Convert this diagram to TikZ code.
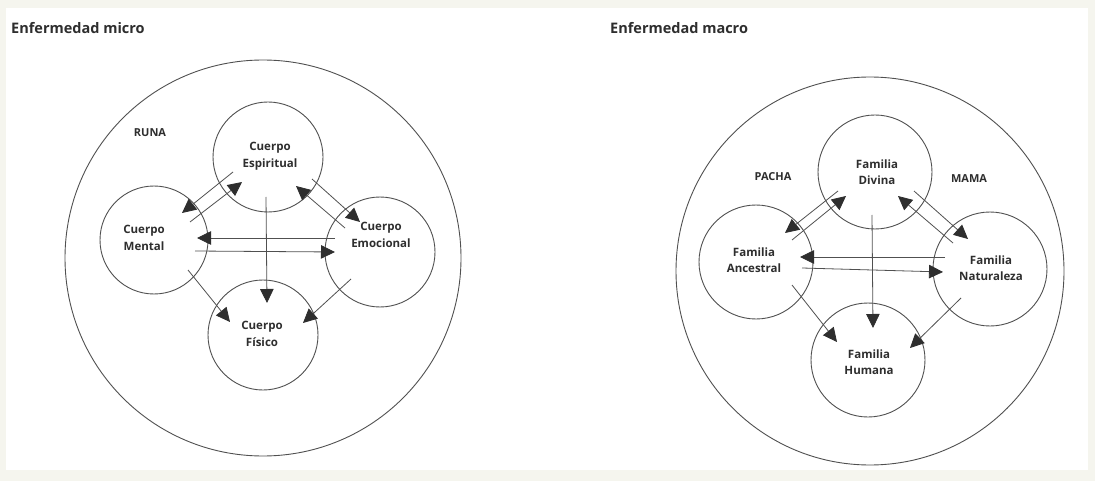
\documentclass[tikz,border=0pt]{standalone}
\usepackage{fontspec}
\setmainfont{Open Sans}
\usetikzlibrary{arrows.meta,calc}
\definecolor{ink}{HTML}{2E2E2E}
\definecolor{linec}{HTML}{505050}
\definecolor{paper}{HTML}{F5F5EE}
\begin{document}
\begin{tikzpicture}[x=1pt,y=-1pt,
  bubble/.style={draw=linec,line width=0.9pt,circle,inner sep=0pt,minimum size=#1},
  lbl/.style={text=ink,font=\bfseries\fontsize{11.5}{16.5}\selectfont,align=center,inner sep=0pt},
  title/.style={text=ink,font=\bfseries\fontsize{14.5}{16}\selectfont,inner sep=0pt,anchor=west},
  realm/.style={text=ink,font=\bfseries\fontsize{11}{13}\selectfont,inner sep=0pt},
  arr/.style={draw=linec,line width=0.8pt,-{Triangle[length=14pt,width=13.5pt,color=ink]}}]
\fill[paper] (0,0) rectangle (1095,481);
\fill[white] (6,8) rectangle (1088,470);
\useasboundingbox (0,0) rectangle (1095,481);

% ---------- left diagram ----------
\node[title] (tl) at (11,28) {Enfermedad micro};
\node[bubble=396pt] (runa) at (263,258) {};
\node[realm] (runalbl) at (150,133) {RUNA};
\node[bubble=110pt] (esp) at (268,157) {};
\node[bubble=108pt] (men) at (154,240) {};
\node[bubble=110pt] (emo) at (380,252) {};
\node[bubble=110pt] (fis) at (263,335) {};
\node[lbl] (espt) at (270,156) {Cuerpo\\Espiritual};
\node[lbl] (ment) at (144,238) {Cuerpo\\Mental};
\node[lbl] (emot) at (381,235) {Cuerpo\\Emocional};
\node[lbl] (fist) at (262,334) {Cuerpo\\Físico};

\draw[arr] ($(esp)+(-35,15)$) -- ($(men)+(28,-27)$);
\draw[arr] ($(men)+(36,-18)$) -- ($(esp)+(-26,25)$);
\draw[arr] ($(esp)+(44,22)$) -- ($(emo)+(-20,-30)$);
\draw[arr] ($(emo)+(-35,-24)$) -- ($(esp)+(28,29)$);
\draw[arr] ($(emo)+(-45,-14)$) -- ($(men)+(43,-2)$);
\draw[arr] ($(men)+(41,11)$) -- ($(emo)+(-45,0)$);
\draw[arr] ($(esp)+(-2,40)$) -- ($(fis)+(4,-32)$);
\draw[arr] ($(men)+(34,30)$) -- ($(fis)+(-33,-13)$);
\draw[arr] ($(emo)+(-29,27)$) -- ($(fis)+(40,-12)$);

% ---------- right diagram ----------
\node[title] (tr) at (610,28) {Enfermedad macro};
\node[bubble=388pt] (pm) at (870,271) {};
\node[realm] (pacha) at (773,177) {PACHA};
\node[realm] (mama) at (969,179) {MAMA};
\node[bubble=114pt] (div) at (875,172) {};
\node[bubble=114pt] (anc) at (756,262) {};
\node[bubble=114pt] (nat) at (990,269) {};
\node[bubble=114pt] (hum) at (868,360) {};
\node[lbl] (divt) at (877,172) {Familia\\Divina};
\node[lbl] (anct) at (754,260) {Familia\\Ancestral};
\node[lbl] (natt) at (991,268) {Familia\\Naturaleza};
\node[lbl] (humt) at (869,362) {Familia\\Humana};

\draw[arr] ($(div)+(-37,19)$) -- ($(anc)+(29,-29)$);
\draw[arr] ($(anc)+(36,-22)$) -- ($(div)+(-29,24)$);
\draw[arr] ($(div)+(39,19)$) -- ($(nat)+(-22,-30)$);
\draw[arr] ($(nat)+(-37,-26)$) -- ($(div)+(23,24)$);
\draw[arr] ($(nat)+(-45,-12)$) -- ($(anc)+(44,-5)$);
\draw[arr] ($(anc)+(46,6)$) -- ($(nat)+(-47,3)$);
\draw[arr] ($(div)+(-3,43)$) -- ($(hum)+(5,-32)$);
\draw[arr] ($(anc)+(36,23)$) -- ($(hum)+(-31,-18)$);
\draw[arr] ($(nat)+(-29,29)$) -- ($(hum)+(42,-12)$);
\end{tikzpicture}
\end{document}
